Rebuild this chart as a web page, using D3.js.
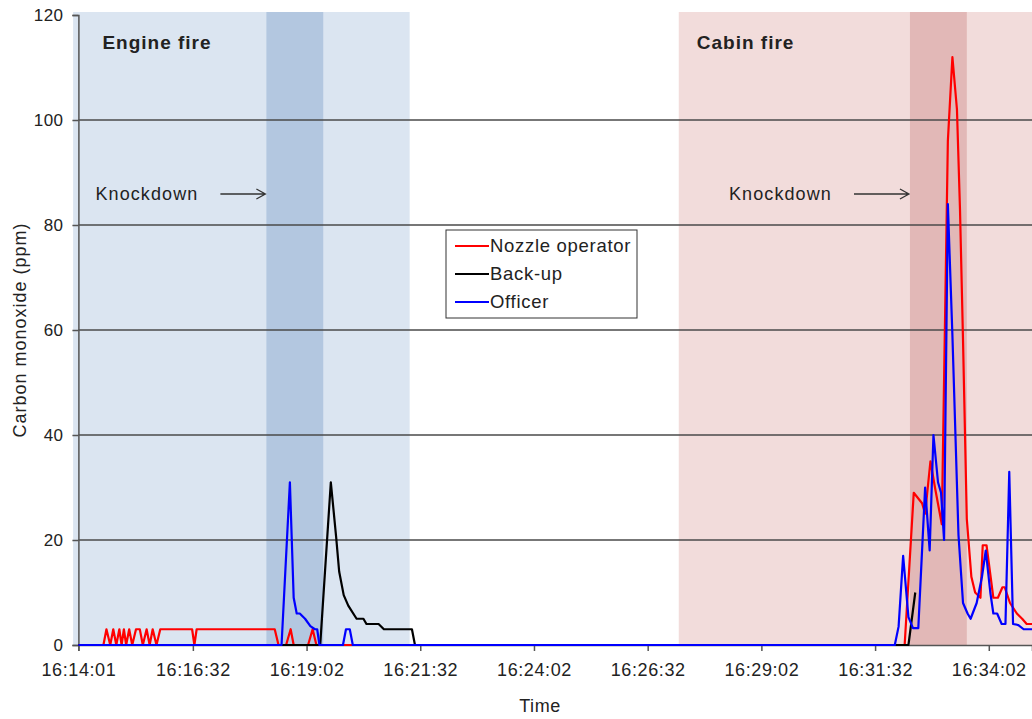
<!DOCTYPE html>
<html>
<head>
<meta charset="utf-8">
<script src="https://cdn.jsdelivr.net/npm/d3@7"></script>
<style>
  body { margin: 0; background: #fff; }
  text { font-family: "Liberation Sans", Arial, sans-serif; fill: #222; }
</style>
</head>
<body>
<div id="chart"></div>
<script>
// [seconds after 16:14:01, carbon monoxide ppm]
let nozzle = [[0,0],[33,0],[37,3],[42,0],[46,3],[50,0],[54,3],[57,0],[60,3],[63,0],[67,3],[71,0],[76,3],[81,3],[85,0],[90,3],[94,0],[98,3],[103,0],[108,3],[150,3],[153,0],[156,3],[259,3],[264,0],[274,0],[280,3],[284,0],[303,0],[309,3],[314,0],
  [1090,0],[1102,29],[1113,27],[1117,25],[1124,35],[1130,30],[1139,23],[1147,96],[1153,112],[1159,102],[1163,83],[1167,58],[1172,24],[1178,13],[1183,10],[1190,9],[1193,19],[1198,19],[1207,9],[1213,9],[1219,11],[1222,11],[1229,8],[1238,6],[1245,5],[1251,4],[1262,4]]
let backup = [[0,0],[319,0],[333,31],[340,20.6],[344,14],[350,9.5],[356,7.5],[367,5],[376,5],[380,4],[396,4],[403,3],[440,3],[444,0],
  [1095,0],[1104,10]]
let officer = [[0,0],[268,0],[279,31],[284,9],[288,6],[292,6],[299,5],[306,3.6],[312,3],[315,3],[318,0],[349,0],[353,3],[358,3],[362,0],
  [1077,0],[1082,3.5],[1088,17],[1095,5.3],[1101,3.2],[1108,3.2],[1117,30],[1123,18],[1128,40],[1134,31],[1138,29],[1142,20],[1147,84],[1153,59],[1161,21],[1167,8],[1173,6],[1177,5],[1185,8],[1192,13],[1197,18],[1203,10],[1207,6],[1212,6],[1218,4],[1223,4],[1228,33],[1233,4],[1240,3.8],[1247,3],[1262,3]]

let seriesNames = ["Nozzle operator", "Back-up", "Officer"]
let seriesColors = ["#ff0000", "#000000", "#0000ff"]

let yTicks = [0, 20, 40, 60, 80, 100, 120]
let xTicks = [0, 151, 301, 451, 601, 751, 901, 1051, 1201]

let fireNames = ["Engine fire", "Cabin fire"]
let fireSpans = [[-7, 437], [792, 1262]]
let knockdownSpans = [[248, 323], [1097, 1172]]
let fireColors = ["#dbe5f1", "#f2dcdb"]
let knockColors = ["#b3c7e0", "#e2b8b7"]

let startTime = new Date(2000, 0, 1, 16, 14, 1)
let fmt = d3.timeFormat("%H:%M:%S")

let width = 1032, height = 719

let x = d3.scaleLinear().domain([0, 1258]).range([78.4, 1032])
let y = d3.scaleLinear().domain([0, 120]).range([645, 15])

let svg = d3.select("#chart")
    .append("svg")
    .attr("width", width)
    .attr("height", height)

// fire periods and knockdown periods
svg.selectAll("fire")
    .data(fireSpans)
    .enter()
    .append("rect")
    .attr("x", d => x(d[0]))
    .attr("y", y(120) - 3)
    .attr("width", d => x(d[1]) - x(d[0]))
    .attr("height", y(0) - y(120) + 3)
    .attr("fill", (d, i) => fireColors[i])

svg.selectAll("knock")
    .data(knockdownSpans)
    .enter()
    .append("rect")
    .attr("x", d => x(d[0]))
    .attr("y", y(120) - 3)
    .attr("width", d => x(d[1]) - x(d[0]))
    .attr("height", y(0) - y(120) + 3)
    .attr("fill", (d, i) => knockColors[i])

// gridlines
svg.selectAll("grid")
    .data(yTicks.filter(d => d > 0 && d < 120))
    .enter()
    .append("line")
    .attr("x1", x(0))
    .attr("x2", width)
    .attr("y1", d => y(d))
    .attr("y2", d => y(d))
    .attr("stroke", "#4a4a4a")
    .attr("stroke-width", 1.5)

// y axis
let yAxis = svg.append("g")
    .attr("transform", "translate(" + x(0) + ",0)")
    .call(d3.axisLeft(y).tickValues(yTicks).tickSize(6).tickPadding(9))
yAxis.select(".domain").attr("stroke", "#555").attr("stroke-width", 1.5)
yAxis.selectAll(".tick line").attr("stroke", "#555").attr("stroke-width", 1.5)
yAxis.selectAll(".tick text")
    .attr("font-size", 17)
    .attr("fill", "#222")
    .attr("letter-spacing", 0.4)
    .style("font-family", "Liberation Sans, Arial, sans-serif")

// x axis
let xAxis = svg.append("g")
    .attr("transform", "translate(0," + y(0) + ")")
    .call(d3.axisBottom(x).tickValues(xTicks).tickSize(6).tickPadding(12)
        .tickFormat(d => fmt(new Date(startTime.getTime() + d * 1000))))
xAxis.select(".domain").attr("stroke", "#555").attr("stroke-width", 1.5)
xAxis.selectAll(".tick line").attr("stroke", "#555").attr("stroke-width", 1.5)
xAxis.selectAll(".tick text")
    .attr("font-size", 18)
    .attr("fill", "#222")
    .attr("letter-spacing", 0.6)
    .style("font-family", "Liberation Sans, Arial, sans-serif")

// series
let line = d3.line().x(d => x(d[0])).y(d => y(d[1]))
svg.selectAll("series")
    .data([nozzle, backup, officer])
    .enter()
    .append("path")
    .attr("d", line)
    .attr("fill", "none")
    .attr("stroke", (d, i) => seriesColors[i])
    .attr("stroke-width", 2.2)
    .attr("stroke-linejoin", "round")

// fire labels
svg.selectAll("fireLabel")
    .data(fireNames)
    .enter()
    .append("text")
    .attr("x", (d, i) => x(fireSpans[i][0] < 0 ? 0 : fireSpans[i][0]) + (i == 0 ? 24 : 18))
    .attr("y", 49)
    .attr("font-size", 19)
    .attr("font-weight", "bold")
    .attr("letter-spacing", 1)
    .attr("fill", "#111")
    .text(d => d)

// knockdown arrows
let arrowLen = [45, 55]
knockdownSpans.forEach((k, i) => {
    let tip = x(k[0]) - 1
    let ay = 194
    svg.append("path")
        .attr("d", "M" + (tip - arrowLen[i]) + "," + ay + "H" + tip + "M" + (tip - 9) + "," + (ay - 5) + "L" + tip + "," + ay + "L" + (tip - 9) + "," + (ay + 5))
        .attr("fill", "none")
        .attr("stroke", "#333")
        .attr("stroke-width", 1.3)
    svg.append("text")
        .attr("x", tip - arrowLen[i] - 22)
        .attr("y", 200)
        .attr("text-anchor", "end")
        .attr("font-size", 18)
        .attr("letter-spacing", 1.1)
        .attr("fill", "#222")
        .text("Knockdown")
})

// legend
let legend = svg.append("g").attr("transform", "translate(446,230)")
legend.append("rect")
    .attr("width", 191)
    .attr("height", 88)
    .attr("fill", "#fff")
    .attr("stroke", "#333")
    .attr("stroke-width", 1)
seriesNames.forEach((name, i) => {
    legend.append("line")
        .attr("x1", 9).attr("x2", 43)
        .attr("y1", 16 + i * 28).attr("y2", 16 + i * 28)
        .attr("stroke", seriesColors[i])
        .attr("stroke-width", 2)
    legend.append("text")
        .attr("x", 44)
        .attr("y", 22 + i * 28)
        .attr("font-size", 18.5)
        .attr("letter-spacing", 0.7)
        .attr("fill", "#222")
        .text(name)
})

// axis titles
svg.append("text")
    .attr("transform", "translate(26,330) rotate(-90)")
    .attr("text-anchor", "middle")
    .attr("font-size", 18)
    .attr("letter-spacing", 1)
    .attr("fill", "#222")
    .text("Carbon monoxide (ppm)")

svg.append("text")
    .attr("x", 540)
    .attr("y", 712)
    .attr("text-anchor", "middle")
    .attr("font-size", 18)
    .attr("letter-spacing", 0.6)
    .attr("fill", "#222")
    .text("Time")
</script>
</body>
</html>
